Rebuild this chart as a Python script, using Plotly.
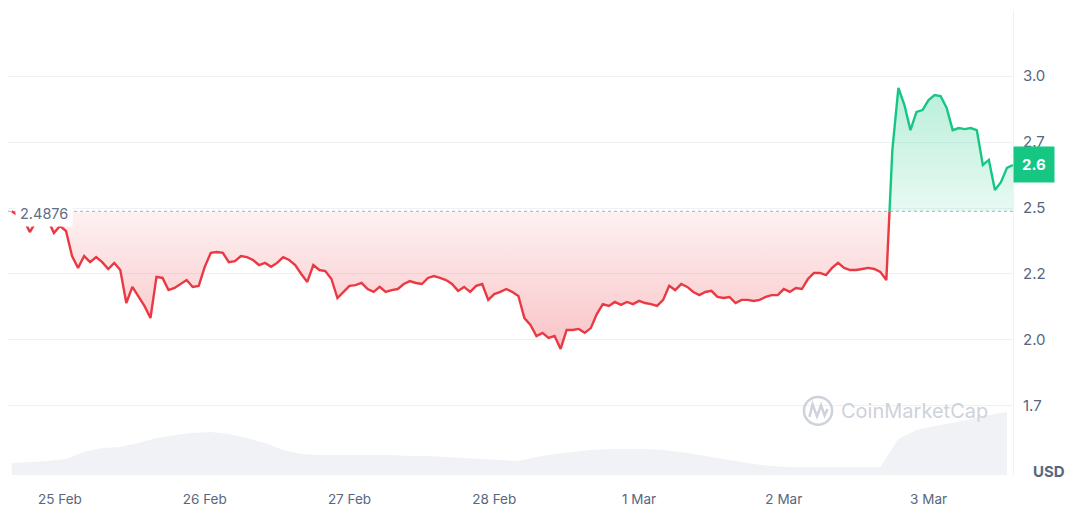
import pandas as pd
import plotly.graph_objects as go

# hourly price, USD, starting 24 Feb 16:00
price = [
    2.4876, 2.473, 2.455, 2.409, 2.447, 2.440, 2.455, 2.405, 2.432, 2.413,
    2.318, 2.273, 2.318, 2.295, 2.314, 2.295, 2.269, 2.292, 2.265, 2.140,
    2.201, 2.163, 2.129, 2.083, 2.239, 2.235, 2.189, 2.197, 2.212, 2.227,
    2.201, 2.205, 2.277, 2.330, 2.333, 2.330, 2.295, 2.299, 2.318, 2.314,
    2.303, 2.284, 2.292, 2.277, 2.292, 2.314, 2.303, 2.284, 2.250, 2.220,
    2.284, 2.265, 2.261, 2.231, 2.159, 2.182, 2.205, 2.208, 2.216, 2.193,
    2.182, 2.201, 2.182, 2.189, 2.193, 2.212, 2.223, 2.216, 2.212, 2.235,
    2.242, 2.235, 2.227, 2.212, 2.186, 2.201, 2.182, 2.205, 2.212, 2.152,
    2.174, 2.182, 2.193, 2.182, 2.167, 2.083, 2.057, 2.015, 2.027, 2.008,
    2.015, 1.966, 2.038, 2.038, 2.042, 2.027, 2.045, 2.098, 2.136, 2.129,
    2.144, 2.133, 2.144, 2.136, 2.148, 2.140, 2.136, 2.129, 2.152, 2.205,
    2.189, 2.212, 2.201, 2.182, 2.170, 2.182, 2.186, 2.163, 2.159, 2.163,
    2.140, 2.152, 2.152, 2.148, 2.152, 2.163, 2.170, 2.170, 2.193, 2.182,
    2.197, 2.193, 2.231, 2.254, 2.254, 2.246, 2.273, 2.292, 2.273, 2.265,
    2.265, 2.269, 2.273, 2.269, 2.258, 2.227, 2.720, 2.955, 2.890, 2.795,
    2.864, 2.871, 2.909, 2.928, 2.924, 2.879, 2.795, 2.803, 2.799, 2.803,
    2.795, 2.663, 2.682, 2.568, 2.598, 2.652, 2.663,
]
price_times = pd.date_range("2025-02-24 16:00", periods=len(price), freq="h")

# 3-hourly volume (M USD)
volume = [
    12, 13, 14, 16, 23, 27, 28, 32, 37, 40, 42, 43, 41, 37, 32, 25, 21, 20, 20, 20,
    20, 20, 19, 19, 18, 17, 16, 15, 14, 18, 21, 23, 25, 26, 26, 26, 25, 23, 20, 17,
    14, 11, 9, 8, 8, 8, 8, 8, 8, 36, 45, 49, 52, 56, 60, 63,
]
volume_times = pd.date_range("2025-02-24 16:00", periods=len(volume), freq="3h")

open_price = 2.4876
day_ticks = ["2025-02-25", "2025-02-26", "2025-02-27", "2025-02-28",
             "2025-03-01", "2025-03-02", "2025-03-03"]
day_labels = ["25 Feb", "26 Feb", "27 Feb", "28 Feb", "1 Mar", "2 Mar", "3 Mar"]
y_ticks = [3.25, 3.0, 2.75, 2.5, 2.25, 2.0, 1.75]
y_labels = ["", "3.0", "2.7", "2.5", "2.2", "2.0", "1.7"]

RED = "#ea3943"
GREEN = "#16c784"
GREY = "#58667e"

# split the series where it crosses the opening price
xs, ys = [price_times[0]], [price[0]]
for i in range(1, len(price)):
    p0, p1 = price[i - 1], price[i]
    if (p0 - open_price) * (p1 - open_price) < 0:
        f = (open_price - p0) / (p1 - p0)
        t = price_times[i - 1] + (price_times[i] - price_times[i - 1]) * f
        xs.append(t)
        ys.append(open_price)
    xs.append(price_times[i])
    ys.append(price[i])

below = [min(v, open_price) for v in ys]
above = [max(v, open_price) for v in ys]
cross = max(i for i, v in enumerate(ys) if v == open_price)

fig = go.Figure()

# volume backdrop
fig.add_trace(go.Scatter(
    x=volume_times, y=volume, yaxis="y2", mode="lines",
    line=dict(width=0), fill="tozeroy", fillcolor="#f0f2f5", hoverinfo="skip",
))

fig.add_trace(go.Scatter(x=xs, y=[open_price] * len(xs), mode="lines",
                         line=dict(width=0), hoverinfo="skip"))
fig.add_trace(go.Scatter(
    x=xs, y=below, mode="lines", line=dict(width=0), fill="tonexty",
    fillgradient=dict(type="vertical", start=open_price, stop=1.96,
                      colorscale=[[0, "rgba(234,57,67,0.07)"], [1, "rgba(234,57,67,0.30)"]]),
    hoverinfo="skip",
))
fig.add_trace(go.Scatter(x=xs, y=[open_price] * len(xs), mode="lines",
                         line=dict(width=0), hoverinfo="skip"))
fig.add_trace(go.Scatter(
    x=xs, y=above, mode="lines", line=dict(width=0), fill="tonexty",
    fillgradient=dict(type="vertical", start=open_price, stop=2.96,
                      colorscale=[[0, "rgba(22,199,132,0.10)"], [1, "rgba(22,199,132,0.30)"]]),
    hoverinfo="skip",
))

fig.add_trace(go.Scatter(x=xs[:cross + 1], y=ys[:cross + 1], mode="lines",
                         line=dict(color=RED, width=2.4)))
fig.add_trace(go.Scatter(x=xs[cross:], y=ys[cross:], mode="lines",
                         line=dict(color=GREEN, width=2.4)))

# dotted opening price line
fig.add_shape(type="line", xref="paper", x0=0, x1=1, y0=open_price, y1=open_price,
              line=dict(color="#a6b0c3", width=1, dash="dot"), layer="below")

# watermark
fig.add_shape(type="circle", xref="paper", yref="paper",
              x0=0.792, x1=0.820, y0=0.108, y1=0.168,
              line=dict(color="#cdd2db", width=2.5))
fig.add_shape(type="path", xref="paper", yref="paper",
              path="M 0.7975 0.125 L 0.8005 0.152 L 0.805 0.126 L 0.809 0.150 L 0.8125 0.128 L 0.8155 0.142",
              line=dict(color="#cdd2db", width=2.5))
fig.add_annotation(text="CoinMarketCap", xref="paper", yref="paper", x=0.827, y=0.138,
                   xanchor="left", yanchor="middle", showarrow=False,
                   font=dict(size=20, color="#cdd2db"))

fig.add_annotation(text="2.4876", x=price_times[0], y=open_price, xanchor="left",
                   yanchor="top", xshift=3, yshift=11, showarrow=False, bgcolor="white",
                   borderpad=4, font=dict(size=14.5, color="#616e85"))
fig.add_annotation(text="<b>%.1f</b>" % (int(price[-1] * 10) / 10), xref="paper", x=1,
                   y=price[-1], xanchor="left", yanchor="middle", showarrow=False,
                   bgcolor=GREEN, borderpad=8, font=dict(size=15, color="white"))
fig.add_annotation(text="<b>USD</b>", xref="paper", yref="paper", x=1, y=0,
                   xanchor="left", yanchor="middle", xshift=18, yshift=4, showarrow=False,
                   font=dict(size=15, color=GREY))

# page body adds an 8px offset, so the figure is sized to fit inside the window
fig.update_layout(
    width=1072, height=503,
    margin=dict(l=0, r=67, t=2, b=36),
    paper_bgcolor="white", plot_bgcolor="white",
    font=dict(family="Inter", size=13, color=GREY),
    showlegend=False,
    xaxis=dict(
        range=["2025-02-24 15:23", "2025-03-03 14:00"],
        tickvals=day_ticks, ticktext=day_labels,
        showgrid=False, zeroline=False, showline=False,
        ticks="outside", ticklen=12, tickcolor="rgba(0,0,0,0)",
        tickfont=dict(size=13.5),
    ),
    yaxis=dict(
        range=[1.4886, 3.25], side="right",
        tickvals=y_ticks, ticktext=y_labels,
        showgrid=True, gridcolor="#eff2f5", zeroline=False,
        showline=True, mirror=True, linecolor="#eff2f5",
        ticks="outside", ticklen=6, tickcolor="rgba(0,0,0,0)",
        tickfont=dict(size=15),
    ),
    yaxis2=dict(range=[0, 465], overlaying="y", visible=False),
)

fig.write_html("out.html")
